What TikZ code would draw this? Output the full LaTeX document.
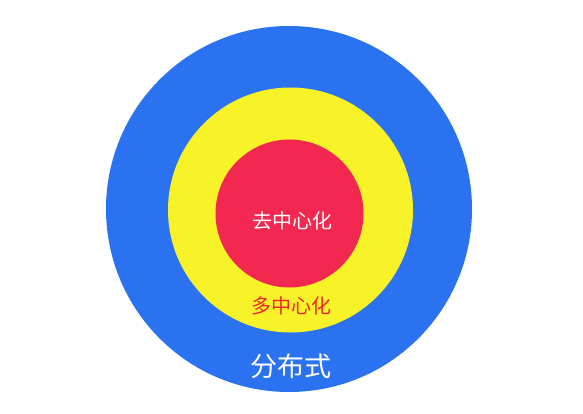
\documentclass[tikz,border=0pt]{standalone}
\usepackage{fontspec}
\newfontfamily\cjk{Noto Sans CJK SC}
\definecolor{ringblue}{RGB}{42,114,240}
\definecolor{ringyellow}{RGB}{247,243,40}
\definecolor{ringred}{RGB}{242,40,80}
\definecolor{labelred}{RGB}{240,40,40}
\begin{document}
\begin{tikzpicture}[x=1pt,y=-1pt,
  ring/.style={circle,inner sep=0pt,draw=none},
  lbl/.style={font=\cjk\fontsize{#1}{#1}\selectfont,inner sep=0pt}]
\useasboundingbox (0,0) rectangle (583,414);
\fill[white] (0,0) rectangle (583,414);
\node[ring,fill=ringblue,minimum size=366pt] (blue) at (289,209) {};
\node[ring,fill=ringyellow,minimum size=245pt] (yellow) at (290.5,210) {};
\node[ring,fill=ringred,minimum size=148pt] (red) at (289.5,213.5) {};
\node[lbl=20,text=white] (t1) at (292.5,221) {去中心化};
\node[lbl=20,text=labelred] (t2) at (291,306) {多中心化};
\node[lbl=27,text=white] (t3) at (291,366) {分布式};
\end{tikzpicture}
\end{document}
